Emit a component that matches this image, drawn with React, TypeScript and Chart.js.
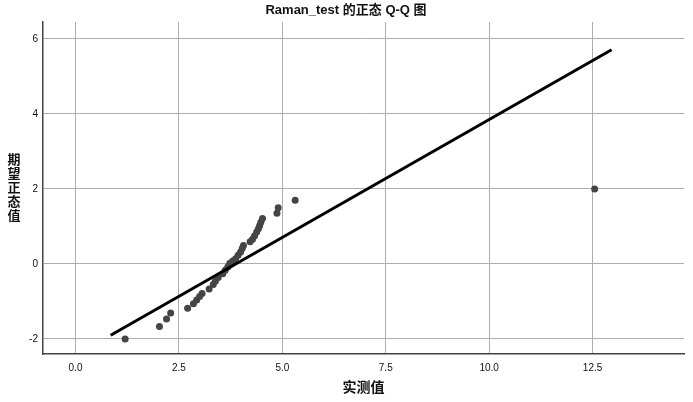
import { useEffect, useRef } from "react";
import { Chart, registerables } from "chart.js";

Chart.register(...registerables);

const observed = [
  1.2, 2.03, 2.2, 2.3, 2.71, 2.85, 2.93, 3.0, 3.06, 3.23, 3.33, 3.38, 3.45, 3.56,
  3.62, 3.68, 3.73, 3.8, 3.87, 3.93, 3.99, 4.03, 4.06, 4.22, 4.28, 4.33, 4.38,
  4.42, 4.45, 4.48, 4.52, 4.87, 4.9, 5.31, 12.55,
];
const expected = [
  -2.0, -1.67, -1.47, -1.31, -1.18, -1.06, -0.96, -0.87, -0.79, -0.67, -0.55,
  -0.46, -0.36, -0.26, -0.17, -0.08, 0.02, 0.08, 0.14, 0.23, 0.32, 0.41, 0.49,
  0.59, 0.66, 0.75, 0.85, 0.94, 1.02, 1.11, 1.21, 1.35, 1.5, 1.7, 2.0,
];
const lineX = [0.85, 12.96];
const lineY = [-1.9, 5.71];
const xTicks = [0, 2.5, 5, 7.5, 10, 12.5];
const yTicks = [-2, 0, 2, 4, 6];
const titleText = "Raman_test 的正态 Q-Q 图";
const xTitle = "实测值";
const yTitle = "期望正态值";

const FONT = '"Liberation Sans", "Noto Sans CJK SC", sans-serif';
const CJK = '"Noto Sans CJK SC", "Liberation Sans", sans-serif';

export default function App() {
  const ref = useRef<HTMLCanvasElement | null>(null);

  useEffect(() => {
    document.body.style.margin = "0";
    const canvas = ref.current;
    if (!canvas) return;

    const titles = {
      id: "customTitles",
      afterDraw(chart: any) {
        const ctx = chart.ctx as CanvasRenderingContext2D;
        const area = chart.chartArea;
        ctx.save();
        ctx.fillStyle = "#111";
        ctx.textAlign = "center";
        ctx.textBaseline = "middle";
        ctx.font = `bold 13px ${FONT}`;
        ctx.fillText(titleText, 346, 10);
        ctx.font = `bold 14px ${CJK}`;
        ctx.fillText(xTitle, (area.left + area.right) / 2, 387);
        ctx.font = `bold 13px ${CJK}`;
        const chars = Array.from(yTitle);
        const startY = 159;
        chars.forEach((c, i) => ctx.fillText(c, 14, startY + i * 14));
        ctx.restore();
      },
    };

    const chart = new Chart(canvas, {
      type: "scatter",
      data: {
        datasets: [
          {
            type: "line",
            data: lineX.map((x, i) => ({ x, y: lineY[i] })),
            borderColor: "#000",
            borderWidth: 3,
            pointRadius: 0,
            showLine: true,
            fill: false,
            order: 0,
          } as any,
          {
            data: observed.map((x, i) => ({ x, y: expected[i] })),
            backgroundColor: "#454545",
            borderColor: "#454545",
            pointRadius: 3.5,
            borderWidth: 0,
            order: 1,
          },
        ],
      },
      options: {
        responsive: false,
        animation: false,
        layout: { padding: { top: 22, right: 9, left: 0, bottom: 0 } },
        plugins: {
          legend: { display: false },
          title: { display: false },
          tooltip: { enabled: false },
        },
        scales: {
          x: {
            type: "linear",
            min: -0.786,
            max: 14.71,
            afterBuildTicks: (s: any) => {
              s.ticks = xTicks.map((v) => ({ value: v }));
            },
            afterFit: (s: any) => {
              s.height = 48;
            },
            ticks: {
              padding: 8,
              color: "#111",
              font: { family: FONT, size: 10 },
              callback: (v: any) => Number(v).toFixed(1),
            },
            grid: { color: "#adadad", lineWidth: 1, drawTicks: false },
            border: { color: "#444", width: 1.5 },
          },
          y: {
            type: "linear",
            min: -2.4,
            max: 6.45,
            afterBuildTicks: (s: any) => {
              s.ticks = yTicks.map((v) => ({ value: v }));
            },
            afterFit: (s: any) => {
              s.width = 43;
            },
            ticks: {
              padding: 5,
              color: "#111",
              font: { family: FONT, size: 10 },
              callback: (v: any) => String(v),
            },
            grid: { color: "#adadad", lineWidth: 1, drawTicks: false },
            border: { color: "#444", width: 1.5 },
          },
        },
      },
      plugins: [titles],
    });

    return () => chart.destroy();
  }, []);

  return (
    <div style={{ width: 693, height: 402, background: "#fff" }}>
      <canvas ref={ref} width={693} height={402} style={{ display: "block" }} />
    </div>
  );
}
